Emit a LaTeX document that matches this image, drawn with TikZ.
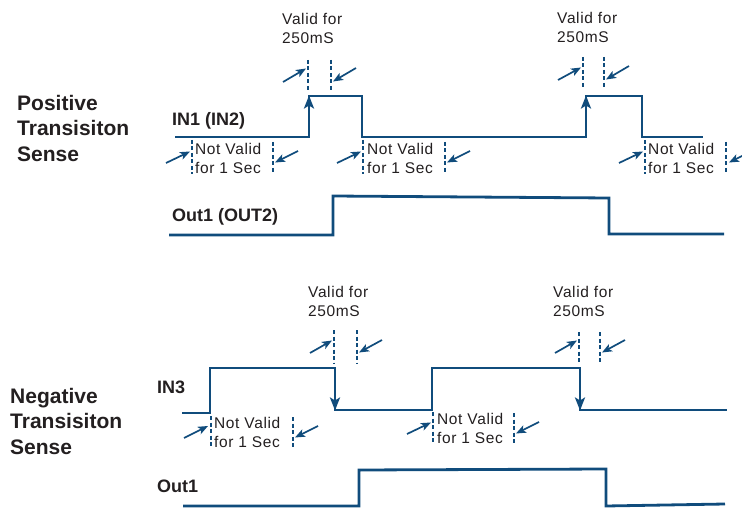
\documentclass[tikz,border=0pt]{standalone}
\usepackage{fontspec}
\setmainfont{Liberation Sans}
\newfontfamily\lblfont[LetterSpace=4]{Liberation Sans}
\usetikzlibrary{arrows.meta}
\definecolor{wblue}{RGB}{16,76,124}
\definecolor{txtc}{RGB}{35,31,32}
\begin{document}
\begin{tikzpicture}[x=1pt,y=-1pt,
  wave/.style={draw=wblue,line width=2.8pt,line join=miter},
  wavearrow/.style={draw=wblue,line width=2.8pt,-{Stealth[length=13pt,width=10pt,inset=3pt]}},
  guide/.style={draw=wblue,line width=1.2pt,dash pattern=on 4pt off 2.5pt},
  ptr/.style={draw=wblue,line width=1.7pt,-{Stealth[length=10pt,width=8pt,inset=2.5pt]}},
  lbl/.style={text=txtc,font=\lblfont\fontsize{15.5}{19}\selectfont,align=left,anchor=north west,inner sep=0pt},
  sig/.style={text=txtc,font=\fontsize{18}{22}\selectfont\bfseries,anchor=base west,inner sep=0pt},
  ttl/.style={text=txtc,font=\fontsize{21}{25.5}\selectfont\bfseries,align=left,anchor=north west,inner sep=0pt},
]
\useasboundingbox (0,0) rectangle (742,508);

% ---------------- Positive section ----------------
\node[ttl] (tpos) at (17,95) {Positive\\Transisiton\\Sense};
\node[sig] (in1) at (172,126) {IN1 (IN2)};
\node[sig] (out1a) at (172,222) {Out1 (OUT2)};

\draw[wave] (175,137) -- (309,137) -- (309,96) -- (362,96) -- (362,137) -- (586,137)
  -- (586,96) -- (642,96) -- (642,137) -- (703,137);
\draw[wavearrow] (309,130) -- (309,95.5);
\draw[wavearrow] (586,130) -- (586,95.5);

\draw[wave] (169,235) -- (333,235) -- (333,196) -- (609,198) -- (609,234) -- (724,234);

% Valid for 250mS (top, 1)
\node[lbl] (tv1) at (282,13) {Valid for\\250mS};
\draw[guide] (308,60) -- (308,92);
\draw[guide] (331,60) -- (331,90);
\draw[ptr] (283,82) -- (306,68.5);
\draw[ptr] (356,68) -- (333,81.5);

% Valid for 250mS (top, 2)
\node[lbl] (tv2) at (557,12) {Valid for\\250mS};
\draw[guide] (583,57) -- (583,89);
\draw[guide] (604,57) -- (604,88);
\draw[ptr] (558,80) -- (581,67.5);
\draw[ptr] (629,66) -- (606,79.5);

% Not Valid (top, 1)
\node[lbl] (tn1) at (195,143) {Not Valid\\for 1 Sec};
\draw[guide] (192,140) -- (192,174);
\draw[guide] (273,142) -- (273,174);
\draw[ptr] (166,163) -- (190,151.5);
\draw[ptr] (298,151) -- (275,162.5);

% Not Valid (top, 2)
\node[lbl] (tn2) at (367,143) {Not Valid\\for 1 Sec};
\draw[guide] (363,140) -- (363,174);
\draw[guide] (445,142) -- (445,174);
\draw[ptr] (337,163) -- (361,151.5);
\draw[ptr] (470,151) -- (447,162.5);

% Not Valid (top, 3)
\node[lbl] (tn3) at (648,143) {Not Valid\\for 1 Sec};
\draw[guide] (645,140) -- (645,174);
\draw[guide] (726,142) -- (726,174);
\draw[ptr] (619,163) -- (643,151.5);
\draw[ptr] (752,151) -- (729,162.5);

% ---------------- Negative section ----------------
\node[ttl] (tneg) at (10,388) {Negative\\Transisiton\\Sense};
\node[sig] (in3) at (157,393) {IN3};
\node[sig] (out1b) at (157,492) {Out1};

\draw[wave] (182,413) -- (210,413) -- (210,368) -- (335,368) -- (335,410) -- (432,410)
  -- (432,368) -- (580,368) -- (580,410) -- (727,410);
\draw[wavearrow] (335,375) -- (335,410.5);
\draw[wavearrow] (580,375) -- (580,410.5);

\draw[wave] (183,506) -- (359,506) -- (359,470) -- (606,469) -- (606,506) -- (725,504);

% Valid for 250mS (bottom, 1)
\node[lbl] (bv1) at (308,286) {Valid for\\250mS};
\draw[guide] (334,330) -- (334,364);
\draw[guide] (357,330) -- (357,364);
\draw[ptr] (310,353) -- (332,340.5);
\draw[ptr] (382,340) -- (359,352.5);

% Valid for 250mS (bottom, 2)
\node[lbl] (bv2) at (553,286) {Valid for\\250mS};
\draw[guide] (579,332) -- (579,364);
\draw[guide] (600,332) -- (600,364);
\draw[ptr] (555,353) -- (577,340.5);
\draw[ptr] (625,340) -- (602,352.5);

% Not Valid (bottom, 1)
\node[lbl] (bn1) at (214,417) {Not Valid\\for 1 Sec};
\draw[guide] (211,416) -- (211,448);
\draw[guide] (293,417) -- (293,448);
\draw[ptr] (184,438) -- (208,426);
\draw[ptr] (318,426) -- (295,437.5);

% Not Valid (bottom, 2)
\node[lbl] (bn2) at (437,413) {Not Valid\\for 1 Sec};
\draw[guide] (433,412) -- (433,444);
\draw[guide] (514,413) -- (514,444);
\draw[ptr] (407,434) -- (431,422.5);
\draw[ptr] (539,422) -- (516,433.5);
\end{tikzpicture}
\end{document}
